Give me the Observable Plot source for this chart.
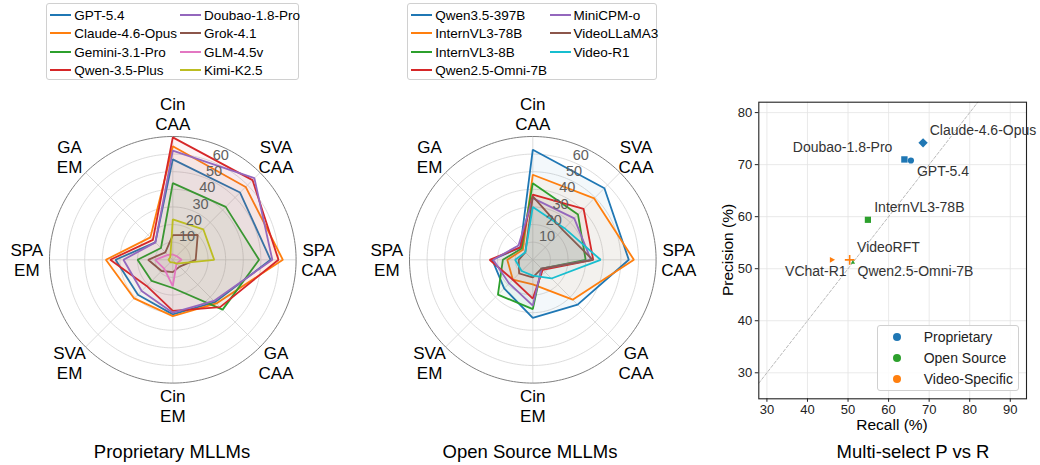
<!DOCTYPE html>
<html><head><meta charset="utf-8">
<script src="https://cdn.jsdelivr.net/npm/d3@7"></script>
<script src="https://cdn.jsdelivr.net/npm/@observablehq/plot@0.6"></script>
<style>
body{margin:0;background:#fff;}
#root{position:relative;width:1040px;height:465px;font-family:"Liberation Sans",Arial,Helvetica,sans-serif;color:#000;overflow:hidden;background:#fff;}
.legend{position:absolute;border:1px solid #d0d0d0;border-radius:3px;background:rgba(255,255,255,0.85);box-sizing:border-box;}
.sw{position:absolute;width:21px;height:2px;}
.lt{position:absolute;font-size:13.5px;line-height:15px;white-space:nowrap;transform:translateY(-50%);}
.title{position:absolute;font-size:18.5px;white-space:nowrap;transform:translate(-50%,-50%);}
.axl{position:absolute;font-size:15.5px;white-space:nowrap;transform:translate(-50%,-50%);}
.dotk{position:absolute;width:8px;height:8px;border-radius:50%;transform:translate(-50%,-50%);}
</style></head>
<body><div id="root"></div>
<script>
// ---------- data ----------
const axisLabels = ["Cin\nCAA","SVA\nCAA","SPA\nCAA","GA\nCAA","Cin\nEM","SVA\nEM","SPA\nEM","GA\nEM"];
const radialTicks = [10,20,30,40,50,60];
const radialMax = 70;

const propModels = ["GPT-5.4","Claude-4.6-Opus","Gemini-3.1-Pro","Qwen-3.5-Plus","Doubao-1.8-Pro","Grok-4.1","GLM-4.5v","Kimi-K2.5"];
const propColors = ["#1f77b4","#ff7f0e","#2ca02c","#d62728","#9467bd","#8c564b","#e377c2","#bcbd22"];
const propGPT     = [57, 54, 55.5, 34, 31, 28, 32.5, 14];
const propClaude  = [64.5, 58.5, 62.5, 35, 32, 31, 38, 18];
const propGemini  = [43.5, 42.5, 49, 40, 16, 17, 20, 9.5];
const propQwen    = [69.5, 64, 60, 38, 29, 21, 35.5, 16];
const propDoubao  = [62, 65.5, 56.5, 33, 30, 25, 28, 14];
const propGrok    = [14, 20, 13, 5.5, 7, 9, 14, 6];
const propGLM     = [3, 3, 5, 3, 15, 7, 10, 4];
const propKimi    = [23, 24.5, 23.5, 3, 1.5, 2, 2.5, 2];
const propSeries = [propGPT, propClaude, propGemini, propQwen, propDoubao, propGrok, propGLM, propKimi];

const openModels = ["Qwen3.5-397B","InternVL3-78B","InternVL3-8B","Qwen2.5-Omni-7B","MiniCPM-o","VideoLLaMA3","Video-R1"];
const openColors = ["#1f77b4","#ff7f0e","#2ca02c","#d62728","#9467bd","#8c564b","#17becf"];
const openQwen397 = [62.5, 57.5, 54.5, 36, 33, 23, 23, 10];
const openIVL78   = [48.3, 49.3, 57.4, 32, 14, 16, 14.5, 8];
const openIVL8    = [43.5, 36.3, 30, 7, 28, 28, 17, 9];
const openOmni    = [37, 40.8, 34.3, 8, 22, 16, 24.5, 10];
const openMiniCPM = [35, 33.3, 33, 7, 26, 19, 22.5, 11.5];
const openVLLaMA  = [36, 24, 34, 7, 10, 11, 8, 6];
const openVideoR1 = [30, 25.4, 38.5, 15, 9, 9, 10, 6];
const openSeries = [openQwen397, openIVL78, openIVL8, openOmni, openMiniCPM, openVLLaMA, openVideoR1];

const prModels    = ["Claude-4.6-Opus","Doubao-1.8-Pro","GPT-5.4","InternVL3-78B","VChat-R1","VideoRFT","Qwen2.5-Omni-7B"];
const prRecall    = [68.5, 63.9, 65.5, 54.9, 46.0, 50.4, 51.2];
const prPrecision = [74.2, 71.0, 70.8, 59.4, 51.7, 51.7, 51.2];
const prGroup     = ["Proprietary","Proprietary","Proprietary","Open Source","Video-Specific","Video-Specific","Open Source"];
const prGroups    = ["Proprietary","Open Source","Video-Specific"];
const prGroupColors = ["#1f77b4","#2ca02c","#ff7f0e"];
const xTicks = [30,40,50,60,70,80,90];
const yTicks = [30,40,50,60,70,80];
const xDomain = [28, 94];
const yDomain = [25, 82];

// ---------- styles (not data) ----------
const prMarker = ["diamond2","square","circle","square","triRight","plus","triangle"];
const prMarkerR = [4.2, 3.6, 3.1, 3.5, 2.6, 3.2, 1.6];
const prLabelStyle = [
  {anchor:"start", dx:6.6, dy:-12.7},
  {anchor:"end", dx:-12, dy:-12.3},
  {anchor:"start", dx:6, dy:10.7},
  {anchor:"start", dx:6.3, dy:-12},
  {anchor:"middle", dx:-16, dy:11.7},
  {anchor:"start", dx:7.4, dy:-12.6},
  {anchor:"start", dx:4.6, dy:9.4}
];

const root = document.getElementById("root");
const FONT = '"Liberation Sans", Arial, Helvetica, sans-serif';

function legend(left, top, w, h, names, colors, col2Off){
  const box = document.createElement("div");
  box.className = "legend";
  Object.assign(box.style,{left:left+"px",top:top+"px",width:w+"px",height:h+"px"});
  names.forEach((n,i)=>{
    const c = Math.floor(i/4), r = i%4;
    const y = 10.7 + r*18.4;
    const sx = 3.6 + c*col2Off;
    const sw = document.createElement("div");
    sw.className="sw"; Object.assign(sw.style,{left:sx+"px",top:(y-1)+"px",background:colors[i]});
    const t = document.createElement("div");
    t.className="lt"; t.textContent=n; Object.assign(t.style,{left:(sx+24)+"px",top:y+"px"});
    box.appendChild(sw); box.appendChild(t);
  });
  root.appendChild(box);
}

function htmlText(cls, text, x, y){
  const d=document.createElement("div"); d.className=cls; d.textContent=text;
  d.style.left=x+"px"; d.style.top=y+"px"; root.appendChild(d); return d;
}

function radar(left, names, colors, series){
  const N = axisLabels.length;
  const cx = 172.3, cy = 171.3, R = 123.3;
  const ang = i => i*2*Math.PI/N;
  const ringLevels = radialTicks.concat([radialMax]);
  const ringPts = [];
  ringLevels.forEach(r=>{ for(let k=0;k<240;k++){ const a=k*2*Math.PI/240; ringPts.push({r, x:r*Math.sin(a), y:r*Math.cos(a)}); } });
  const spokes = axisLabels.map((l,i)=>({x2:radialMax*Math.sin(ang(i)), y2:radialMax*Math.cos(ang(i))}));
  const labelR = radialMax*146/123.3;
  const labels = axisLabels.map((l,i)=>({text:l, x:labelR*Math.sin(ang(i)), y:labelR*Math.cos(ang(i))}));
  const tickAng = Math.PI/8;
  const tickLab = radialTicks.map(t=>({text:String(t), x:t*Math.sin(tickAng), y:t*Math.cos(tickAng)}));
  const marks = [
    Plot.line(ringPts.filter(p=>p.r!==radialMax), {x:"x", y:"y", z:"r", curve:"linear-closed", stroke:"#d3d3d3", strokeWidth:0.8}),
    Plot.link(spokes, {x1:()=>0, y1:()=>0, x2:"x2", y2:"y2", stroke:"#d3d3d3", strokeWidth:0.8}),
    Plot.line(ringPts.filter(p=>p.r===radialMax), {x:"x", y:"y", curve:"linear-closed", stroke:"#808080", strokeWidth:1})
  ];
  series.forEach((vals,si)=>{
    const pts = vals.map((v,i)=>({x:v*Math.sin(ang(i)), y:v*Math.cos(ang(i))}));
    marks.push(Plot.line(pts, {x:"x", y:"y", curve:"linear-closed", stroke:colors[si], fill:colors[si], fillOpacity:0.055, strokeWidth:1.8, strokeLinejoin:"miter"}));
  });
  marks.push(Plot.text(tickLab, {x:"x", y:"y", text:"text", dx:7.5, dy:-7, fill:"#606060", fontSize:14.5}));
  marks.push(Plot.text(labels, {x:"x", y:"y", text:"text", fontSize:17, lineHeight:1.16, fill:"#000"}));
  const svg = Plot.plot({
    width:350, height:345, margin:0,
    x:{domain:[-radialMax,radialMax], range:[cx-R, cx+R], axis:null},
    y:{domain:[-radialMax,radialMax], range:[cy+R, cy-R], axis:null},
    style:{fontFamily:FONT, background:"transparent", overflow:"visible"},
    marks
  });
  svg.style.position="absolute"; svg.style.left=left+"px"; svg.style.top="88px";
  root.appendChild(svg);
}

legend(45.7, 3.3, 253.3, 76.7, propModels, propColors, 129.7);
legend(406.7, 3.3, 250.6, 76.7, openModels, openColors, 138.3);
radar(0, propModels, propColors, propSeries);
radar(360, openModels, openColors, openSeries);
htmlText("title", "Proprietary MLLMs", 172, 452);
htmlText("title", "Open Source MLLMs", 530, 452);

// ---------- scatter ----------
const triRight = {draw(ctx, size){ const r=Math.sqrt(size/Math.PI)*1.25; ctx.moveTo(r,0); ctx.lineTo(-r*0.6, r*0.9); ctx.lineTo(-r*0.6,-r*0.9); ctx.closePath(); }};
const pts = prModels.map((m,i)=>({name:m, x:prRecall[i], y:prPrecision[i], color:prGroupColors[prGroups.indexOf(prGroup[i])]}));
const lo = Math.max(xDomain[0], yDomain[0]), hi = Math.min(xDomain[1], yDomain[1]);
const diag = [{v:lo},{v:hi}];
const smarks = [
  Plot.gridX(xTicks, {stroke:"#e3e3e3", strokeOpacity:1, strokeWidth:0.8}),
  Plot.gridY(yTicks, {stroke:"#e3e3e3", strokeOpacity:1, strokeWidth:0.8}),
  Plot.line(diag, {x:"v", y:"v", stroke:"#a8a8a8", strokeWidth:0.8, strokeDasharray:"3,2"}),
  Plot.axisX(xTicks, {tickSize:3.5, tickPadding:2.5, fontSize:13, label:null, stroke:"#222"}),
  Plot.axisY(yTicks, {tickSize:3.5, tickPadding:3, fontSize:13, label:null, stroke:"#222"}),
  Plot.frame({stroke:"#222", strokeWidth:1.1})
];
pts.forEach((p,i)=>{
  const sym = prMarker[i]==="triRight" ? triRight : prMarker[i];
  if (prMarker[i]==="plus") smarks.push(Plot.dot([p], {x:"x", y:"y", symbol:sym, r:prMarkerR[i], stroke:p.color, strokeWidth:1.6}));
  else smarks.push(Plot.dot([p], {x:"x", y:"y", symbol:sym, r:prMarkerR[i], fill:p.color, stroke:"none"}));
  const st = prLabelStyle[i];
  smarks.push(Plot.text([p], {x:"x", y:"y", text:"name", textAnchor:st.anchor, dx:st.dx, dy:st.dy, fontSize:14, fill:"#333"}));
});
const sc = Plot.plot({
  width:340, height:345, marginLeft:58.3, marginRight:14, marginTop:13.7, marginBottom:34.7,
  x:{domain:xDomain}, y:{domain:yDomain},
  style:{fontFamily:FONT, fontSize:"13px", color:"#222", background:"transparent", overflow:"visible"},
  marks: smarks
});
sc.style.position="absolute"; sc.style.left="700px"; sc.style.top="88px";
root.appendChild(sc);
htmlText("axl", "Recall (%)", 892, 425);
const yl = htmlText("axl", "Precision (%)", 728, 250);
yl.style.transform = "translate(-50%,-50%) rotate(-90deg)";

// scatter legend
const lb = document.createElement("div");
lb.className="legend";
Object.assign(lb.style,{left:"876.7px",top:"325px",width:"142.3px",height:"66px",background:"rgba(255,255,255,0.85)"});
prGroups.forEach((g,i)=>{
  const y = 10.7 + i*21;
  const d=document.createElement("div"); d.className="dotk";
  Object.assign(d.style,{left:"19.6px",top:y+"px",background:prGroupColors[i]});
  const t=document.createElement("div"); t.className="lt"; t.textContent=g;
  Object.assign(t.style,{left:"46px",top:y+"px",fontSize:"14px",color:"#222"});
  lb.appendChild(d); lb.appendChild(t);
});
root.appendChild(lb);
htmlText("title", "Multi-select P vs R", 913, 452);
</script>
</body></html>
